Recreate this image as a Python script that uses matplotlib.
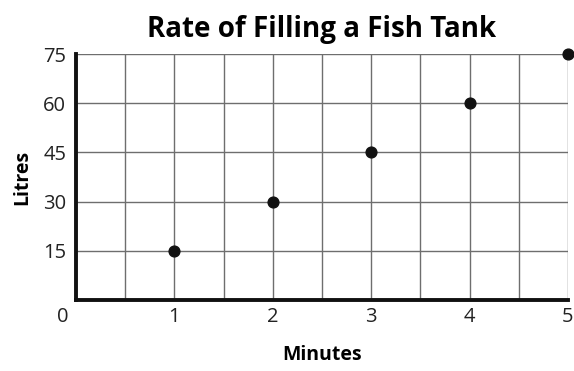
import numpy as np
import matplotlib
matplotlib.use("Agg")
from matplotlib import pyplot as plt

plt.rcParams['font.family'] = ['Open Sans', 'DejaVu Sans']

minutes = [1, 2, 3, 4, 5]
litres = [15, 30, 45, 60, 75]
x_ticks = [1, 2, 3, 4, 5]
y_ticks = [15, 30, 45, 60, 75]

fig = plt.figure(figsize=(5.74, 3.71), dpi=100)
ax = fig.add_axes([0.1324, 0.1914, 0.857, 0.663])

ax.set_xlim(0, 5)
ax.set_ylim(0, 75)

# grid: every half minute, every 15 litres
for gx in np.arange(0.5, 5.01, 0.5):
    ax.axvline(gx, color='#6e6e6e', lw=1.0, zorder=1)
for gy in y_ticks:
    ax.axhline(gy, color='#6e6e6e', lw=1.0, zorder=1)

ax.scatter(minutes, litres, s=60, color='#111111', zorder=3, clip_on=False)

for s in ['top', 'right']:
    ax.spines[s].set_visible(False)
ax.spines['left'].set_linewidth(2.8)
ax.spines['bottom'].set_linewidth(2.8)
ax.spines['left'].set_color('#111111')
ax.spines['bottom'].set_color('#111111')

ax.set_xticks(x_ticks)
ax.set_yticks(y_ticks)
ax.tick_params(length=0, labelsize=14.5, colors='#222222', pad=5)
ax.tick_params(axis='y', pad=7)
ax.text(-0.13, -5.3, '0', ha='center', va='center', fontsize=14.5, color='#222222')

ax.set_xlabel('Minutes', fontsize=14, fontweight='bold', labelpad=13)
ax.set_ylabel('Litres', fontsize=14, fontweight='bold', labelpad=8)
ax.set_title('Rate of Filling a Fish Tank', fontsize=20, fontweight='bold', pad=12)

fig.savefig('out.png', dpi=100)
